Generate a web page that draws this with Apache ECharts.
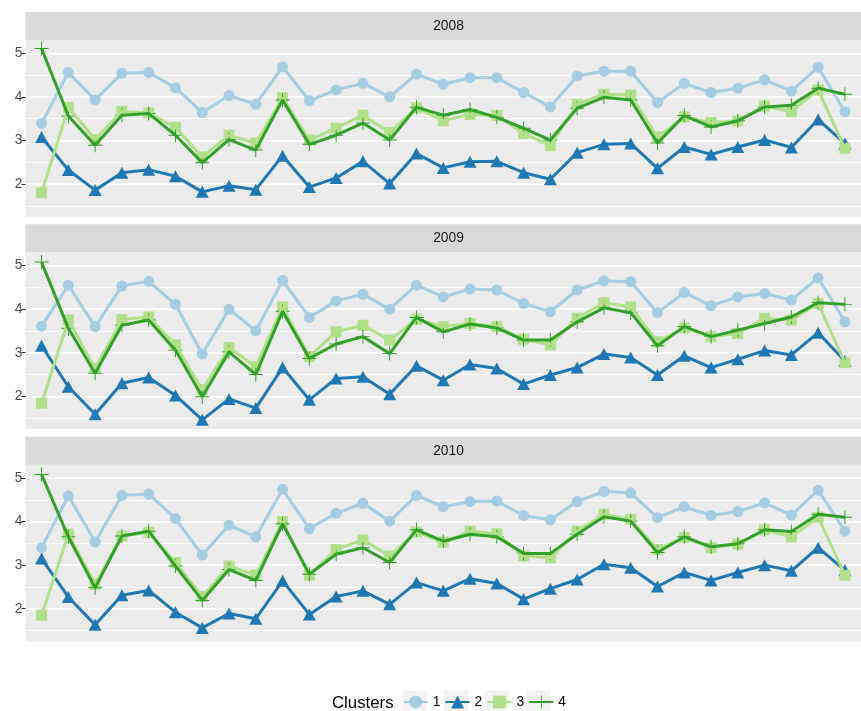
<!DOCTYPE html>
<html><head><meta charset="utf-8">
<script src="https://cdn.jsdelivr.net/npm/echarts@6/dist/echarts.min.js"></script>
<style>html,body{margin:0;padding:0;background:#fff}#c{width:861px;height:711px}</style>
</head><body><div id="c"></div>
<script>
// ---- data ----
const periods = [1,2,3,4,5,6,7,8,9,10,11,12,13,14,15,16,17,18,19,20,21,22,23,24,25,26,27,28,29,30,31];
const years = ['2008','2009','2010'];
const clusterNames = ['1','2','3','4'];
const yTicks = [2,3,4,5];
const yMinor = [1.5,2.5,3.5,4.5];

const c1_2008 = [3.39,4.56,3.93,4.54,4.56,4.21,3.64,4.03,3.83,4.69,3.91,4.16,4.31,4.00,4.52,4.29,4.44,4.44,4.10,3.77,4.48,4.59,4.59,3.87,4.31,4.10,4.20,4.39,4.13,4.68,3.66];
const c2_2008 = [3.08,2.32,1.86,2.26,2.33,2.18,1.82,1.96,1.87,2.65,1.93,2.14,2.52,2.01,2.70,2.37,2.51,2.52,2.26,2.11,2.72,2.91,2.93,2.36,2.85,2.68,2.85,3.01,2.84,3.48,2.93];
const c3_2008 = [1.80,3.76,3.02,3.67,3.63,3.30,2.62,3.12,2.94,3.98,3.01,3.28,3.58,3.18,3.75,3.45,3.60,3.57,3.16,2.88,3.83,4.06,4.04,3.08,3.54,3.41,3.45,3.79,3.66,4.16,2.82];
const c4_2008 = [5.11,3.56,2.89,3.58,3.62,3.12,2.49,3.02,2.78,3.93,2.91,3.12,3.40,3.01,3.76,3.58,3.71,3.53,3.28,3.01,3.74,3.99,3.93,2.94,3.57,3.31,3.45,3.77,3.81,4.20,4.06];

const c1_2009 = [3.61,4.55,3.60,4.53,4.64,4.11,2.97,4.00,3.50,4.66,3.81,4.19,4.34,4.00,4.55,4.28,4.46,4.44,4.13,3.94,4.44,4.65,4.63,3.92,4.38,4.08,4.28,4.36,4.21,4.72,3.71];
const c2_2009 = [3.16,2.22,1.59,2.30,2.43,2.02,1.46,1.94,1.73,2.66,1.92,2.41,2.45,2.05,2.70,2.37,2.73,2.64,2.28,2.49,2.66,2.97,2.89,2.49,2.93,2.66,2.85,3.05,2.95,3.46,2.81];
const c3_2009 = [1.84,3.75,2.64,3.76,3.82,3.18,2.15,3.12,2.68,4.05,2.91,3.48,3.63,3.29,3.77,3.60,3.67,3.60,3.31,3.18,3.79,4.15,4.05,3.25,3.57,3.37,3.44,3.79,3.75,4.13,2.77];
const c4_2009 = [5.08,3.56,2.53,3.63,3.75,3.06,1.99,3.02,2.50,3.95,2.87,3.20,3.37,2.98,3.81,3.48,3.66,3.57,3.29,3.29,3.71,4.03,3.92,3.16,3.60,3.37,3.52,3.67,3.82,4.15,4.11];

const c1_2010 = [3.40,4.59,3.53,4.60,4.63,4.07,3.23,3.92,3.65,4.74,3.84,4.19,4.42,4.01,4.60,4.34,4.46,4.47,4.14,4.04,4.46,4.69,4.66,4.09,4.34,4.14,4.23,4.43,4.15,4.72,3.78];
const c2_2010 = [3.15,2.27,1.63,2.31,2.42,1.92,1.56,1.89,1.77,2.64,1.87,2.28,2.41,2.10,2.60,2.41,2.69,2.58,2.22,2.46,2.67,3.02,2.94,2.51,2.83,2.65,2.83,3.00,2.87,3.40,2.88];
const c3_2010 = [1.85,3.71,2.56,3.67,3.75,3.06,2.28,2.98,2.77,4.00,2.77,3.36,3.58,3.21,3.76,3.53,3.78,3.72,3.21,3.17,3.78,4.17,4.05,3.36,3.63,3.40,3.48,3.81,3.65,4.10,2.77];
const c4_2010 = [5.08,3.65,2.48,3.67,3.78,2.98,2.19,2.90,2.65,3.95,2.79,3.25,3.40,3.06,3.81,3.55,3.71,3.65,3.27,3.27,3.71,4.11,4.01,3.29,3.65,3.42,3.49,3.81,3.77,4.17,4.10];

// ---- layout / style ----
const valuesByYear = [
  [c1_2008, c2_2008, c3_2008, c4_2008],
  [c1_2009, c2_2009, c3_2009, c4_2009],
  [c1_2010, c2_2010, c3_2010, c4_2010]
];
const FONT = 'Liberation Sans, Arial, sans-serif';
const colors = ['#A6CEE3','#1F78B4','#B2DF8A','#33A02C'];
const plusPath = 'path://M-0.07,-1 L0.07,-1 L0.07,-0.07 L1,-0.07 L1,0.07 L0.07,0.07 L0.07,1 L-0.07,1 L-0.07,0.07 L-1,0.07 L-1,-0.07 L-0.07,-0.07 Z';
const symbols = ['circle','triangle','rect',plusPath];
const symbolSizes = [11,[13,12],11,14];
const panelLeft = 25.5, panelW = 846;
const panelTops = [40, 252.3, 464.7];
const panelH = 176.7, stripH = 28;
const yMin = 1.25, yMax = 5.305;

const grids = [], xAxes = [], yAxes = [], lineSeries = [], pointSeries = [], graphics = [];
panelTops.forEach((top, g) => {
  grids.push({left: panelLeft, top: top, width: panelW, height: panelH,
    show: true, backgroundColor: '#EBEBEB', borderWidth: 0, containLabel: false});
  xAxes.push({type: 'value', gridIndex: g, min: 0.4, max: 31.6,
    axisLine: {show: false}, axisTick: {show: false}, axisLabel: {show: false}, splitLine: {show: false}});
  // major axis
  yAxes.push({type: 'value', gridIndex: g, min: yMin, max: yMax,
    axisLine: {show: false},
    axisTick: {show: true, length: 4, customValues: yTicks, lineStyle: {color: '#333333', width: 1}},
    axisLabel: {show: true, customValues: yTicks, margin: 3, color: '#4D4D4D', fontSize: 13.8, fontFamily: FONT},
    splitLine: {show: true, lineStyle: {color: '#FFFFFF', width: 1.6}}});
  // minor grid axis
  yAxes.push({type: 'value', gridIndex: g, min: yMin, max: yMax, position: 'left',
    axisLine: {show: false},
    axisTick: {show: false, customValues: yMinor},
    axisLabel: {show: false, customValues: yMinor},
    splitLine: {show: true, lineStyle: {color: '#FFFFFF', width: 0.8}}});

  graphics.push({type: 'rect', shape: {x: panelLeft, y: top - stripH, width: panelW, height: stripH},
    style: {fill: '#D9D9D9'}, silent: true});
  graphics.push({type: 'text', x: panelLeft + panelW / 2, y: top - stripH / 2,
    style: {text: years[g], fill: '#1A1A1A', font: '13.8px ' + FONT, align: 'center', verticalAlign: 'middle'}, silent: true});

  valuesByYear[g].forEach((vals, k) => {
    const pts = periods.map((p, i) => [p, vals[i]]);
    lineSeries.push({type: 'line', name: clusterNames[k], xAxisIndex: g, yAxisIndex: g * 2,
      data: pts, showSymbol: false, symbol: symbols[k], symbolSize: symbolSizes[k],
      lineStyle: {color: colors[k], width: 3}, itemStyle: {color: colors[k]},
      z: 3, silent: true, animation: false});
    pointSeries.push({type: 'scatter', name: clusterNames[k], xAxisIndex: g, yAxisIndex: g * 2,
      data: pts, symbol: symbols[k], symbolSize: symbolSizes[k], symbolKeepAspect: true,
      itemStyle: {color: colors[k], opacity: 1}, z: 2, silent: true, animation: false});
  });
});

// legend key backgrounds + title
const keyXs = [402.7, 444.0, 485.3, 526.6];
keyXs.forEach(x => graphics.push({type: 'rect', shape: {x: x, y: 690.5, width: 24, height: 24},
  style: {fill: '#F2F2F2'}, silent: true, z: -1}));
graphics.push({type: 'text', x: 332, y: 703,
  style: {text: 'Clusters', fill: '#000000', font: '16.8px ' + FONT, align: 'left', verticalAlign: 'middle'}, silent: true});

const chart = echarts.init(document.getElementById('c'), null, {renderer: 'canvas'});
chart.setOption({
  animation: false,
  backgroundColor: '#FFFFFF',
  grid: grids, xAxis: xAxes, yAxis: yAxes,
  legend: {left: 402.7, top: 695, padding: 0, itemWidth: 24, itemHeight: 16, itemGap: 4.2,
    data: clusterNames, selectedMode: false,
    textStyle: {fontSize: 13.8, color: '#000000', fontFamily: FONT}},
  graphic: graphics,
  series: lineSeries.concat(pointSeries)
});
</script></body></html>
